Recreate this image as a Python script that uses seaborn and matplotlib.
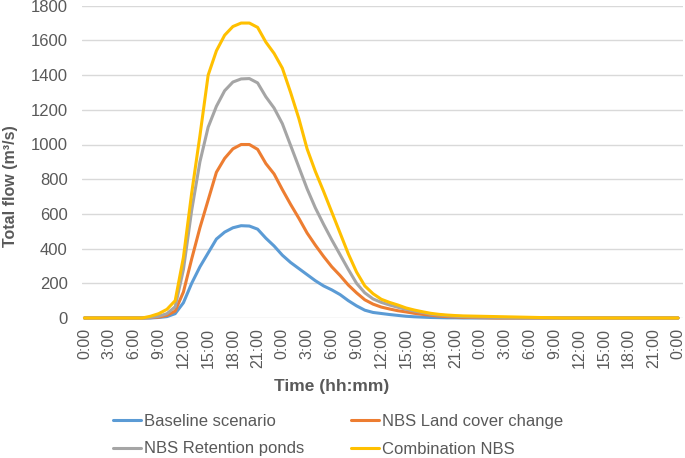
import pandas as pd
import matplotlib.pyplot as plt
import seaborn as sns

# hourly values over three days (hours since start)
hours = list(range(73))
tick_hours = [0, 3, 6, 9, 12, 15, 18, 21, 24, 27, 30, 33, 36, 39, 42, 45, 48,
              51, 54, 57, 60, 63, 66, 69, 72]
tick_labels = ["0:00", "3:00", "6:00", "9:00", "12:00", "15:00", "18:00", "21:00",
               "0:00", "3:00", "6:00", "9:00", "12:00", "15:00", "18:00", "21:00",
               "0:00", "3:00", "6:00", "9:00", "12:00", "15:00", "18:00", "21:00",
               "0:00"]

baseline = [0, 0, 0, 0, 0, 0, 0, 0, 0, 3, 8, 25, 88, 200, 295, 375, 455, 495, 520, 532,
            530, 512, 460, 415, 362, 320, 285, 250, 215, 185, 162, 135, 100, 70, 45, 32,
            26, 20, 15, 10, 7, 5, 3, 2, 1, 1, 0, 0, 0, 0, 0, 0, 0, 0, 0, 0,
            0, 0, 0, 0, 0, 0, 0, 0, 0, 0, 0, 0, 0, 0, 0, 0, 0]
land_cover = [0, 0, 0, 0, 0, 0, 0, 0, 2, 5, 15, 40, 150, 340, 520, 680, 840, 920, 975, 1000,
              1000, 972, 890, 830, 740, 655, 575, 490, 420, 355, 295, 245, 190, 145, 105, 80,
              63, 52, 42, 35, 27, 21, 16, 11, 8, 6, 4, 3, 2, 1, 0, 0, 0, 0, 0, 0,
              0, 0, 0, 0, 0, 0, 0, 0, 0, 0, 0, 0, 0, 0, 0, 0, 0]
ponds = [0, 0, 0, 0, 0, 0, 0, 0, 3, 10, 25, 65, 280, 620, 900, 1100, 1220, 1310, 1360, 1378,
         1380, 1355, 1275, 1210, 1120, 995, 870, 745, 635, 540, 450, 365, 280, 200, 145, 110,
         90, 75, 62, 50, 40, 32, 22, 17, 13, 10, 8, 6, 5, 4, 3, 2, 1, 0, 0, 0,
         0, 0, 0, 0, 0, 0, 0, 0, 0, 0, 0, 0, 0, 0, 0, 0, 0]
combination = [0, 0, 0, 0, 0, 0, 0, 0, 10, 25, 50, 100, 350, 720, 1050, 1400, 1540, 1630, 1680, 1700,
               1700, 1675, 1590, 1525, 1440, 1300, 1150, 975, 845, 730, 610, 490, 370, 265, 185, 140,
               108, 90, 75, 58, 46, 36, 27, 21, 17, 14, 12, 11, 10, 9, 8, 7, 6, 5, 4, 3,
               2, 1, 0, 0, 0, 0, 0, 0, 0, 0, 0, 0, 0, 0, 0, 0, 0]

series_names = ["Baseline scenario", "NBS Land cover change",
                "NBS Retention ponds", "Combination NBS"]
colors = ["#5B9BD5", "#ED7D31", "#A5A5A5", "#FFC000"]

df = pd.DataFrame({"hour": hours,
                   series_names[0]: baseline,
                   series_names[1]: land_cover,
                   series_names[2]: ponds,
                   series_names[3]: combination})
long_df = df.melt(id_vars="hour", var_name="scenario", value_name="flow")

sns.set_theme(style="whitegrid")
plt.rcParams['font.family'] = ['Liberation Sans', 'DejaVu Sans']

fig = plt.figure(figsize=(6.85, 4.58), dpi=100)
ax = fig.add_axes([81.7 / 685, 1 - 318 / 458, (683 - 81.7) / 685, (318 - 5.7) / 458])

sns.lineplot(data=long_df, x="hour", y="flow", hue="scenario", palette=colors,
             linewidth=2.2, estimator=None, legend=False, ax=ax)
for line in ax.get_lines():
    line.set_clip_on(False)

# first point sits a little inside the plot area, last label must stay in frame
ax.set_xlim(-0.34, 72.6)
ax.set_ylim(0, 1800)
ax.set_yticks(range(0, 1801, 200))
ax.set_xticks(tick_hours)
ax.set_xticklabels(tick_labels, rotation=90)
ax.tick_params(axis='x', length=0, pad=7, labelsize=11.5, colors='#595959')
ax.tick_params(axis='y', length=0, pad=10, labelsize=12, colors='#595959')
ax.grid(axis='x', visible=False)
ax.grid(axis='y', color='#D9D9D9', linewidth=1)
for s in ax.spines.values():
    s.set_visible(False)

ax.set_xlabel('Time (hh:mm)', fontsize=12.5, fontweight='bold', color='#595959')
ax.set_ylabel('Total flow (m³/s)', fontsize=11.5, fontweight='bold', color='#595959')
ax.xaxis.set_label_coords(0.415, -0.195)
ax.yaxis.set_label_coords(-0.106, 0.421)

handles = ax.get_lines()[:4]
order = [0, 2, 1, 3]
leg = fig.legend([handles[i] for i in order], [series_names[i] for i in order],
                 ncol=2, loc='upper left', bbox_to_anchor=(113 / 685, 1 - 414 / 458),
                 frameon=False, fontsize=12, handlelength=1.7, handletextpad=0.15,
                 columnspacing=2.8, labelspacing=0.75, borderpad=0, borderaxespad=0)
for t in leg.get_texts():
    t.set_color('#595959')

fig.savefig('out.png', dpi=100)
